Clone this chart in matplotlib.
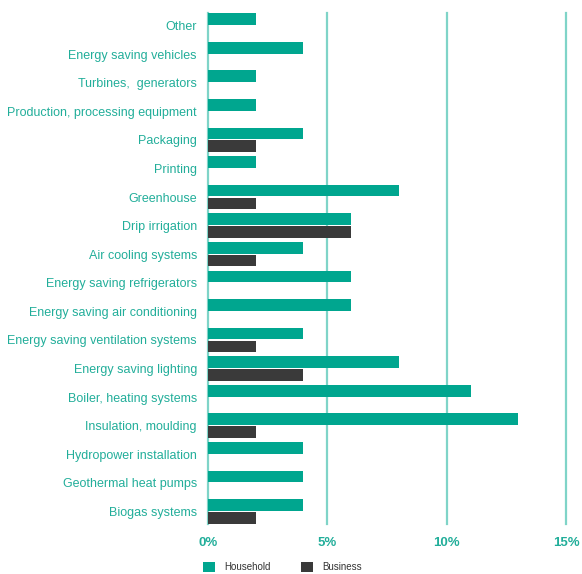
import matplotlib.pyplot as plt
import numpy as np

# categories, top to bottom
categories = ['Other', 'Energy saving vehicles', 'Turbines,  generators',
              'Production, processing equipment', 'Packaging', 'Printing',
              'Greenhouse', 'Drip irrigation', 'Air cooling systems',
              'Energy saving refrigerators', 'Energy saving air conditioning',
              'Energy saving ventilation systems', 'Energy saving lighting',
              'Boiler, heating systems', 'Insulation, moulding',
              'Hydropower installation', 'Geothermal heat pumps', 'Biogas systems']
household = [2, 4, 2, 2, 4, 2, 8, 6, 4, 6, 6, 4, 8, 11, 13, 4, 4, 4]
business = [0, 0, 0, 0, 2, 0, 2, 6, 2, 0, 0, 2, 4, 0, 2, 0, 0, 2]
xticks = [0, 5, 10, 15]

teal = '#00A68F'
dark = '#3A3A3A'
label_col = '#22AE9A'
grid_col = '#7FD4C8'

plt.rcParams['font.family'] = ['Liberation Sans', 'DejaVu Sans']

fig = plt.figure(figsize=(5.82, 5.74), dpi=100)
ax = fig.add_axes([208/582, 1-524/574, 358/582, 511/574])

y = np.arange(len(categories))
h = 0.41
ax.barh(y - 0.225, household, height=h, color=teal, zorder=3, label='Household')
ax.barh(y + 0.225, business, height=h, color=dark, zorder=3, label='Business')

ax.set_ylim(len(categories) - 0.56, -0.44)
ax.set_xlim(0, 15)
ax.set_yticks(y)
ax.set_yticklabels(categories, fontsize=9, color=label_col)
ax.set_xticks(xticks)
ax.set_xticklabels([f'{t}%' for t in xticks], fontsize=9.5, color=label_col, fontweight='bold')
ax.tick_params(axis='both', length=0)
ax.tick_params(axis='y', pad=8)
ax.tick_params(axis='x', pad=9)

for t in xticks[1:]:
    ax.axvline(t, color=grid_col, lw=1.6, zorder=1, clip_on=False)
for s in ['top', 'right', 'bottom']:
    ax.spines[s].set_visible(False)
ax.spines['left'].set_color(grid_col)
ax.spines['left'].set_linewidth(1.6)

leg = fig.legend(loc='center left', bbox_to_anchor=(203/582, 1-567/574), ncol=2, frameon=False,
                 fontsize=7, handlelength=1.2, handleheight=1.3, columnspacing=3.1,
                 handletextpad=1.0, borderaxespad=0, borderpad=0)
for txt in leg.get_texts():
    txt.set_color('#333333')

fig.savefig('out.png', dpi=100)
